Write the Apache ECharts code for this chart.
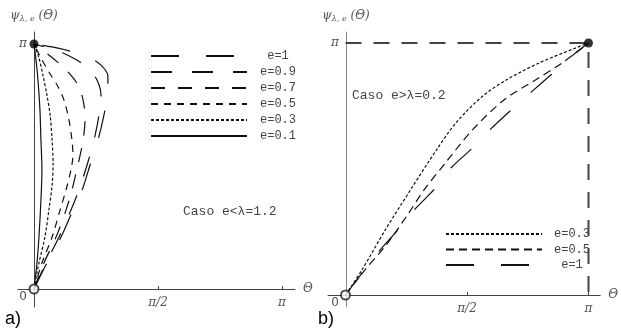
<!DOCTYPE html>
<html>
<head>
<meta charset="utf-8">
<script src="https://cdn.jsdelivr.net/npm/echarts@6/dist/echarts.min.js"></script>
<style>
  html, body { margin: 0; padding: 0; background: #fff; }
  #chart { width: 621px; height: 328px; }
</style>
</head>
<body>
<div id="chart"></div>
<script>
// values in units of pi: [Theta/pi, psi/pi]
// panel a) Caso e<lambda=1.2
var a_e1 = [[0, 0], [0.052, 0.106], [0.109, 0.212], [0.157, 0.322], [0.194, 0.404], [0.226, 0.506], [0.258, 0.608],
  [0.282, 0.710], [0.298, 0.804], [0.298, 0.869], [0.270, 0.914], [0.218, 0.947], [0.145, 0.971], [0.073, 0.988], [0, 1]];
var a_e09 = [[0, 0], [0.048, 0.106], [0.101, 0.212], [0.149, 0.322], [0.181, 0.404], [0.214, 0.506], [0.242, 0.608],
  [0.262, 0.710], [0.270, 0.792], [0.254, 0.853], [0.218, 0.902], [0.165, 0.939], [0.097, 0.971], [0, 1]];
var a_e07 = [[0, 0], [0.040, 0.106], [0.089, 0.212], [0.129, 0.322], [0.153, 0.404], [0.177, 0.506], [0.198, 0.608],
  [0.206, 0.698], [0.198, 0.771], [0.177, 0.833], [0.137, 0.886], [0.089, 0.931], [0.044, 0.967], [0, 1]];
var a_e05 = [[0, 0], [0.032, 0.106], [0.073, 0.212], [0.105, 0.322], [0.129, 0.404], [0.149, 0.486], [0.157, 0.547],
  [0.153, 0.608], [0.141, 0.690], [0.121, 0.771], [0.093, 0.833], [0.060, 0.886], [0.028, 0.943], [0, 1]];
var a_e03 = [[0, 0], [0.020, 0.106], [0.044, 0.212], [0.060, 0.322], [0.073, 0.424], [0.077, 0.506], [0.073, 0.608],
  [0.065, 0.710], [0.052, 0.792], [0.036, 0.873], [0.020, 0.943], [0, 1]];
var a_e01 = [[0, 0], [0.012, 0.106], [0.020, 0.212], [0.028, 0.363], [0.032, 0.486], [0.028, 0.608], [0.024, 0.731],
  [0.016, 0.853], [0.008, 0.935], [0, 1]];

// panel b) Caso e>lambda=0.2
var b_e03 = [[0, 0], [0.068, 0.100], [0.164, 0.259], [0.268, 0.418], [0.376, 0.578], [0.456, 0.685], [0.564, 0.789],
  [0.668, 0.857], [0.804, 0.924], [0.936, 0.976], [1, 1]];
var b_e05 = [[0, 0], [0.080, 0.100], [0.168, 0.199], [0.256, 0.319], [0.324, 0.418], [0.416, 0.530], [0.524, 0.657],
  [0.656, 0.777], [0.788, 0.857], [0.896, 0.924], [1, 1]];
var b_e1 = [[0, 0], [0.136, 0.171], [0.216, 0.259], [0.284, 0.339], [0.364, 0.418], [0.436, 0.506], [0.516, 0.578],
  [0.596, 0.657], [0.676, 0.729], [0.764, 0.805], [0.848, 0.876], [0.936, 0.952], [1, 1]];
var b_limits = [[0, 1], [1, 1], [1, 0]];

var startPoint = [[0, 0]];
var endA = [[0, 1]];
var endB = [[1, 1]];

var xTickVals = [0.5, 1];
var xTickText = ['π/2', 'π'];
var yTickVals = [0, 1];
var yTickText = ['0', 'π'];

var namesA = ['e=1', 'e=0.9', 'e=0.7', 'e=0.5', 'e=0.3', 'e=0.1'];
var namesB = ['e=0.3 ', 'e=0.5 ', 'e=1 '];

var myChart = echarts.init(document.getElementById('chart'));

var serif = 'DejaVu Serif';
var mono = 'Liberation Mono';

// axes sit on zero via offset so that labels follow the line
function xAxisCfg (idx, min, max, offset) {
  return {
    type: 'value', gridIndex: idx, min: min, max: max, offset: offset,
    name: 'Θ', nameLocation: 'end', nameGap: 8,
    nameTextStyle: { fontFamily: serif, fontStyle: 'italic', fontSize: 12, color: '#555' },
    axisLine: { onZero: false, lineStyle: { color: '#444', width: 1 } },
    axisTick: { show: true, inside: true, length: 3, customValues: xTickVals, lineStyle: { color: '#444' } },
    axisLabel: {
      customValues: xTickVals, margin: 8, fontFamily: serif, fontStyle: 'italic', fontSize: 12, color: '#555',
      formatter: function (v) { return xTickText[xTickVals.indexOf(v)]; }
    },
    splitLine: { show: false }
  };
}

function yAxisCfg (idx, min, max, offset, color) {
  return {
    type: 'value', gridIndex: idx, min: min, max: max, offset: offset,
    name: '{p|ψ}{s|λ, e}{p| (Θ)}', nameLocation: 'end', nameGap: 9,
    nameTextStyle: {
      align: 'center', color: '#555',
      rich: {
        p: { fontFamily: serif, fontStyle: 'italic', fontSize: 12, color: '#555' },
        s: { fontFamily: serif, fontStyle: 'italic', fontSize: 8, color: '#555', padding: [7, 0, 0, 0] }
      }
    },
    axisLine: { onZero: false, lineStyle: { color: color, width: 1 } },
    axisTick: { show: true, inside: true, length: 3, customValues: [1], lineStyle: { color: color } },
    axisLabel: {
      customValues: yTickVals, margin: 7, color: '#555',
      formatter: function (v) {
        var t = yTickText[yTickVals.indexOf(v)];
        return v === 0 ? '{z|' + t + '}' : '{pi|' + t + '}';
      },
      rich: {
        z: { fontFamily: 'DejaVu Sans', fontSize: 12, color: '#555', padding: [16, 0, 0, 0] },
        pi: { fontFamily: serif, fontStyle: 'italic', fontSize: 12, color: '#555' }
      }
    },
    splitLine: { show: false }
  };
}

function curve (name, data, idx, dash, width) {
  return {
    name: name, type: 'line', xAxisIndex: idx, yAxisIndex: idx, data: data,
    symbol: 'none', smooth: 0.3, silent: true,
    lineStyle: { color: '#111', width: width || 1.2, type: dash }
  };
}

function legendCfg (names, left, top, gap, txtWidth) {
  return {
    orient: 'vertical', left: left, top: top, data: names,
    itemWidth: 96, itemHeight: 10, itemGap: gap, selectedMode: false,
    itemStyle: { opacity: 0 },
    formatter: function (n) { return '{c|' + n.trim() + '}'; },
    textStyle: {
      rich: { c: { fontFamily: mono, fontSize: 12, color: '#444', width: txtWidth, align: 'center', lineHeight: 14 } }
    }
  };
}

var option = {
  animation: false,
  backgroundColor: '#fff',
  grid: [
    { left: 18, top: 32, width: 277, height: 275 },
    { left: 328, top: 32, width: 280, height: 275 }
  ],
  xAxis: [xAxisCfg(0, -0.0645, 1.0524, -18), xAxisCfg(1, -0.072, 1.048, -12)],
  yAxis: [yAxisCfg(0, -0.0735, 1.049, -16, '#444'), yAxisCfg(1, -0.0476, 1.0437, -18, '#888')],
  legend: [
    legendCfg(namesA, 145, 45, 4, 52),
    legendCfg(namesB, 440, 223, 3.5, 50)
  ],
  graphic: [
    { type: 'text', left: 183, top: 205, style: { text: 'Caso e<λ=1.2', font: '13px "Liberation Mono"', fill: '#444' } },
    { type: 'text', left: 352, top: 89, style: { text: 'Caso e>λ=0.2', font: '13px "Liberation Mono"', fill: '#444' } },
    { type: 'text', left: 5, top: 310, style: { text: 'a)', font: '18px "Liberation Sans"', fill: '#000' } },
    { type: 'text', left: 318, top: 310, style: { text: 'b)', font: '18px "Liberation Sans"', fill: '#000' } }
  ],
  series: [
    curve('e=1', a_e1, 0, [28, 27]),
    curve('e=0.9', a_e09, 0, [21, 20]),
    curve('e=0.7', a_e07, 0, [14, 13]),
    curve('e=0.5', a_e05, 0, [7, 6]),
    curve('e=0.3', a_e03, 0, [3, 2]),
    curve('e=0.1', a_e01, 0, 'solid'),
    curve('e=0.3 ', b_e03, 1, [3, 2]),
    curve('e=0.5 ', b_e05, 1, [8, 5]),
    curve('e=1 ', b_e1, 1, [28, 27]),
    {
      type: 'line', xAxisIndex: 1, yAxisIndex: 1, data: b_limits, symbol: 'none', silent: true,
      lineStyle: { color: '#444', width: 2, type: [16, 12] }
    },
    {
      type: 'scatter', xAxisIndex: 0, yAxisIndex: 0, data: endA, symbol: 'circle', symbolSize: 9, z: 5,
      itemStyle: { color: '#000' }, silent: true
    },
    {
      type: 'scatter', xAxisIndex: 1, yAxisIndex: 1, data: endB, symbol: 'circle', symbolSize: 9, z: 5,
      itemStyle: { color: '#000' }, silent: true
    },
    {
      type: 'scatter', xAxisIndex: 0, yAxisIndex: 0, data: startPoint, symbol: 'emptyCircle', symbolSize: 9, z: 5,
      itemStyle: { color: '#222', borderColor: '#222', borderWidth: 1.2 }, silent: true
    },
    {
      type: 'scatter', xAxisIndex: 1, yAxisIndex: 1, data: startPoint, symbol: 'emptyCircle', symbolSize: 9, z: 5,
      itemStyle: { color: '#222', borderColor: '#222', borderWidth: 1.2 }, silent: true
    }
  ]
};

myChart.setOption(option);
window.addEventListener('resize', function () {
  myChart.resize();
});
</script>
</body>
</html>
